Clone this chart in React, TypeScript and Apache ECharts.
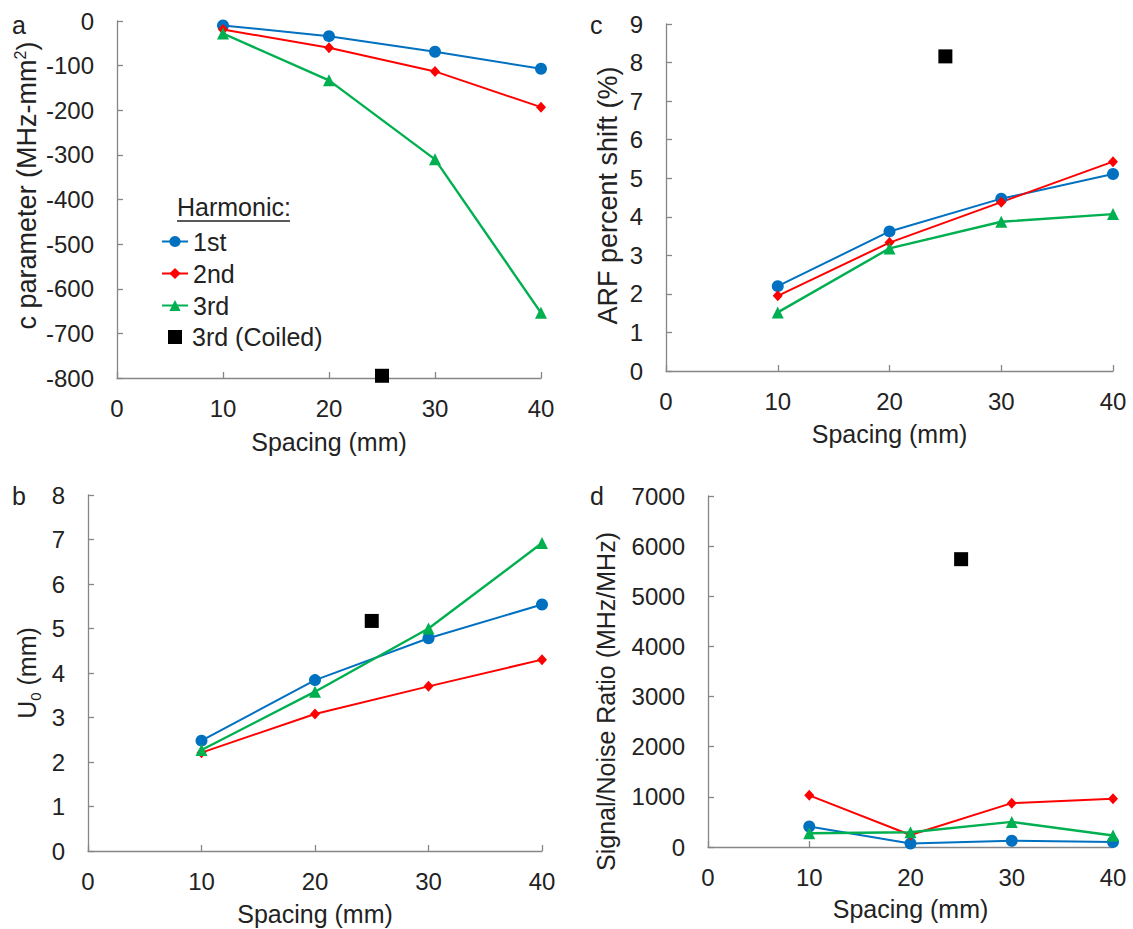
import React, { useEffect, useRef } from "react";
import * as echarts from "echarts";

// ---------- data ----------
const spacing = [10, 20, 30, 40];
const coiledSpacing = 25;
const seriesNames = ["1st", "2nd", "3rd", "3rd (Coiled)"];

// panel a: c parameter (MHz-mm^2)
const cParam1st = [-10, -34, -69, -107];
const cParam2nd = [-19, -60, -113, -193];
const cParam3rd = [-28, -133, -310, -654];
const cParamCoiled = -795;

// panel c: ARF percent shift (%)
const arf1st = [2.2, 3.62, 4.47, 5.11];
const arf2nd = [1.95, 3.33, 4.38, 5.43];
const arf3rd = [1.52, 3.18, 3.87, 4.07];
const arfCoiled = 8.16;

// panel b: U0 (mm)
const u01st = [2.48, 3.84, 4.78, 5.54];
const u02nd = [2.21, 3.08, 3.7, 4.3];
const u03rd = [2.27, 3.58, 5.0, 6.92];
const u0Coiled = 5.17;

// panel d: Signal/Noise ratio (MHz/MHz)
const snr1st = [410, 70, 125, 100];
const snr2nd = [1030, 240, 875, 960];
const snr3rd = [275, 295, 500, 230];
const snrCoiled = 5740;

// axis ticks
const xTicks = { min: 0, max: 40, interval: 10 };
const aTicks = { min: -800, max: 0, interval: 100 };
const cTicks = { min: 0, max: 9, interval: 1 };
const bTicks = { min: 0, max: 8, interval: 1 };
const dTicks = { min: 0, max: 7000, interval: 1000 };

// ---------- styles ----------
const BLUE = "#0070C0";
const RED = "#FF0000";
const GREEN = "#00B050";
const BLACK = "#000000";
const TEXT = "#222222";
const AXIS = "#868686";
const FONT = "'Liberation Sans', Arial, sans-serif";
const TICK_FS = 24;
const TITLE_FS = 25;

const grids = [
  { left: 117, top: 21, width: 424, height: 357 }, // a
  { left: 666, top: 24, width: 447, height: 347 }, // c
  { left: 88, top: 495, width: 454, height: 356 }, // b
  { left: 708, top: 496, width: 405, height: 351 }, // d
];

function xAxisFor(gridIndex: number, nameGap: number) {
  return {
    type: "value",
    gridIndex,
    ...xTicks,
    name: "Spacing (mm)",
    nameLocation: "middle",
    nameGap,
    nameTextStyle: { fontSize: TITLE_FS, color: TEXT, fontFamily: FONT },
    axisLine: { show: true, onZero: false, lineStyle: { color: AXIS, width: 1.3 } },
    axisTick: { show: true, inside: true, length: 6, lineStyle: { color: AXIS, width: 1.3 } },
    axisLabel: { fontSize: TICK_FS, color: TEXT, fontFamily: FONT, margin: 18 },
    splitLine: { show: false },
  };
}

function yAxisFor(
  gridIndex: number,
  ticks: any,
  name: string,
  nameGap: number,
  nameFs: number,
  padding: number[],
  rich?: any
) {
  return {
    type: "value",
    gridIndex,
    ...ticks,
    name,
    nameLocation: "middle",
    nameGap,
    nameTextStyle: { fontSize: nameFs, color: TEXT, fontFamily: FONT, padding, rich },
    axisLine: { show: true, onZero: false, lineStyle: { color: AXIS, width: 1.3 } },
    axisTick: { show: true, inside: true, length: 6, lineStyle: { color: AXIS, width: 1.3 } },
    axisLabel: {
      fontSize: TICK_FS,
      color: TEXT,
      fontFamily: FONT,
      margin: 23,
      formatter: (v: number) => String(v),
    },
    splitLine: { show: false },
  };
}

function pairs(vals: number[]) {
  return spacing.map((x, i) => [x, vals[i]]);
}

function panelSeries(idx: number, s1: number[], s2: number[], s3: number[], coiled: number) {
  const base = { type: "line", xAxisIndex: idx, yAxisIndex: idx };
  return [
    { ...base, name: seriesNames[0], data: pairs(s1), symbol: "circle", symbolSize: 12, itemStyle: { color: BLUE }, lineStyle: { width: 2, color: BLUE } },
    { ...base, name: seriesNames[1], data: pairs(s2), symbol: "diamond", symbolSize: [10, 11], itemStyle: { color: RED }, lineStyle: { width: 2, color: RED } },
    { ...base, name: seriesNames[2], data: pairs(s3), symbol: "triangle", symbolSize: 12, itemStyle: { color: GREEN }, lineStyle: { width: 2.4, color: GREEN } },
    { type: "scatter", xAxisIndex: idx, yAxisIndex: idx, name: seriesNames[3], data: [[coiledSpacing, coiled]], symbol: "rect", symbolSize: 14, itemStyle: { color: BLACK, opacity: 1 } },
  ];
}

export default function App() {
  const ref = useRef<HTMLDivElement>(null);
  useEffect(() => {
    if (!ref.current) return;
    const chart = echarts.init(ref.current, undefined, { renderer: "svg" });
    const textFont = `${TITLE_FS}px ${FONT}`;
    const option: any = {
      animation: false,
      backgroundColor: "#ffffff",
      textStyle: { fontFamily: FONT },
      grid: grids.map((g) => ({ ...g, containLabel: false })),
      xAxis: [xAxisFor(0, 51), xAxisFor(1, 50), xAxisFor(2, 50), xAxisFor(3, 49)],
      yAxis: [
        yAxisFor(0, aTicks, "c parameter (MHz-mm{sup|2})", 75, 27, [0, 0, 0, 28], {
          sup: { fontSize: 16, verticalAlign: "top", lineHeight: 30, color: TEXT, fontFamily: FONT },
        }),
        yAxisFor(1, cTicks, "ARF percent shift (%)", 45, 27, [0, 0, 0, 4]),
        yAxisFor(2, bTicks, "U{sub|0} (mm)", 45, 25, [0, 0, 0, 0], {
          sub: { fontSize: 15, verticalAlign: "bottom", lineHeight: 32, color: TEXT, fontFamily: FONT },
        }),
        yAxisFor(3, dTicks, "Signal/Noise Ratio (MHz/MHz)", 90, 25, [0, 60, 0, 0]),
      ],
      legend: {
        show: true,
        orient: "vertical",
        left: 161,
        top: 229,
        padding: 0,
        itemWidth: 26,
        itemHeight: 14,
        itemGap: 7,
        selectedMode: false,
        data: seriesNames.slice(0, 3),
        textStyle: { fontSize: TITLE_FS, color: TEXT, fontFamily: FONT },
      },
      graphic: [
        { type: "text", left: 177, top: 194, style: { text: "Harmonic:", font: textFont, fill: TEXT } },
        { type: "line", shape: { x1: 177, y1: 221, x2: 290, y2: 221 }, style: { stroke: TEXT, lineWidth: 1.3 } },
        { type: "rect", shape: { x: 168, y: 330, width: 14, height: 14 }, style: { fill: BLACK } },
        { type: "text", x: 192, y: 337, style: { text: seriesNames[3], font: textFont, fill: TEXT, verticalAlign: "middle" } },
        { type: "text", x: 12, y: 25, style: { text: "a", font: textFont, fill: TEXT, verticalAlign: "middle" } },
        { type: "text", x: 590, y: 25, style: { text: "c", font: textFont, fill: TEXT, verticalAlign: "middle" } },
        { type: "text", x: 12, y: 496, style: { text: "b", font: textFont, fill: TEXT, verticalAlign: "middle" } },
        { type: "text", x: 590, y: 496, style: { text: "d", font: textFont, fill: TEXT, verticalAlign: "middle" } },
      ],
      series: [
        ...panelSeries(0, cParam1st, cParam2nd, cParam3rd, cParamCoiled),
        ...panelSeries(1, arf1st, arf2nd, arf3rd, arfCoiled),
        ...panelSeries(2, u01st, u02nd, u03rd, u0Coiled),
        ...panelSeries(3, snr1st, snr2nd, snr3rd, snrCoiled),
      ],
    };
    chart.setOption(option);
    return () => chart.dispose();
  }, []);
  return (
    <div
      ref={ref}
      style={{ position: "absolute", left: 0, top: 0, width: 1133, height: 929, background: "#fff" }}
    />
  );
}
